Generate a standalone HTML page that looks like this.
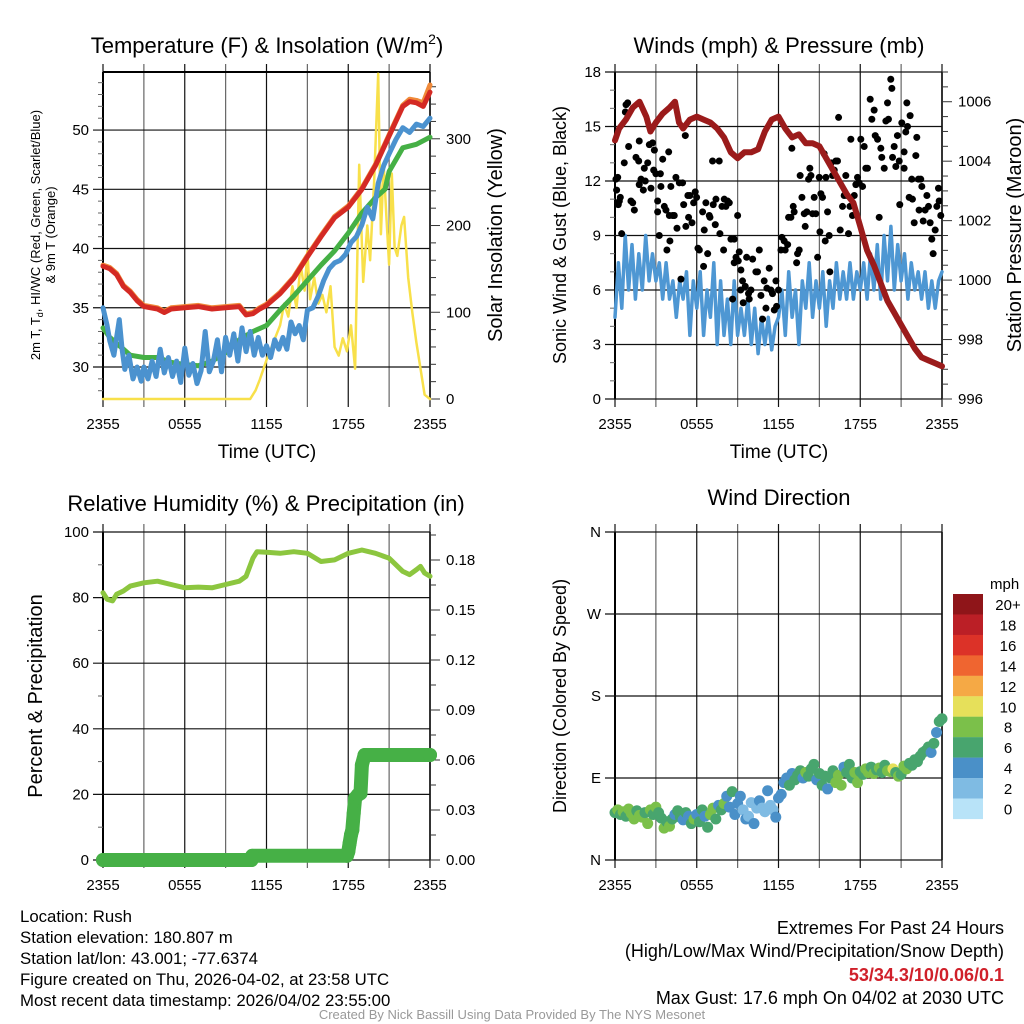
<!DOCTYPE html>
<html><head><meta charset="utf-8"><style>
body{margin:0;background:#fff}
svg{display:block;font-family:"Liberation Sans",sans-serif}
.n{font-family:"Liberation Sans Narrow","Liberation Sans",sans-serif}
</style></head><body>
<svg id="s" width="1024" height="1024" viewBox="0 0 1024 1024">
<rect width="1024" height="1024" fill="#fff"/>
<text x="267" y="53" font-size="22" text-anchor="middle">Temperature (F) &amp; Insolation (W/m<tspan font-size="14" dy="-9">2</tspan><tspan dy="9">)</tspan></text>
<text x="779" y="53" font-size="22" text-anchor="middle">Winds (mph) &amp; Pressure (mb)</text>
<text x="266" y="511" font-size="22" text-anchor="middle">Relative Humidity (%) &amp; Precipitation (in)</text>
<text x="779" y="505" font-size="22" text-anchor="middle">Wind Direction</text>
<text x="267" y="458" font-size="19" text-anchor="middle">Time (UTC)</text>
<text x="779" y="458" font-size="19" text-anchor="middle">Time (UTC)</text>
<text transform="translate(40,235) rotate(-90)" font-size="13" text-anchor="middle">2m T, T<tspan font-size="9" dy="3">d</tspan><tspan dy="-3">, HI/WC (Red, Green, Scarlet/Blue)</tspan></text>
<text transform="translate(55,235) rotate(-90)" font-size="13" text-anchor="middle">&amp; 9m T (Orange)</text>
<text transform="translate(502,235) rotate(-90)" font-size="20" text-anchor="middle">Solar Insolation (Yellow)</text>
<text transform="translate(566,235) rotate(-90)" font-size="18" text-anchor="middle">Sonic Wind &amp; Gust (Blue, Black)</text>
<text transform="translate(1021,235) rotate(-90)" font-size="20" text-anchor="middle">Station Pressure (Maroon)</text>
<text transform="translate(42,696) rotate(-90)" font-size="20" text-anchor="middle">Percent &amp; Precipitation</text>
<text transform="translate(566,696) rotate(-90)" font-size="18" text-anchor="middle">Direction (Colored By Speed)</text>
<g class="n" font-size="16.8">
<text x="20" y="922">Location: Rush</text>
<text x="20" y="943">Station elevation: 180.807 m</text>
<text x="20" y="964">Station lat/lon: 43.001; -77.6374</text>
<text x="20" y="985">Figure created on Thu, 2026-04-02, at 23:58 UTC</text>
<text x="20" y="1006">Most recent data timestamp: 2026/04/02 23:55:00</text>
</g>
<g class="n" font-size="18" text-anchor="end">
<text x="1004" y="934">Extremes For Past 24 Hours</text>
<text x="1004" y="957">(High/Low/Max Wind/Precipitation/Snow Depth)</text>
<text x="1004" y="981" fill="#d0202a" font-weight="bold">53/34.3/10/0.06/0.1</text>
<text x="1004" y="1004">Max Gust: 17.6 mph On 04/02 at 2030 UTC</text>
</g>
<text class="n" x="512" y="1019" font-size="13" fill="#999" text-anchor="middle">Created By Nick Bassill Using Data Provided By The NYS Mesonet</text>
<g id="g"></g>
</svg>
<script>
// ---- data ----
const xTickLabels=["2355","0555","1155","1755","2355"];
const tTemp=[0,0.5,1,1.5,2,2.5,3,3.5,4,4.5,5,6,7,8,9,10,10.5,11,11.5,12,13,14,15,16,17,18,19,20,21,22,22.5,23,23.5,24];
const redTemp=[38.5,38.3,37.8,36.8,36.3,35.6,35.1,35.0,34.9,34.6,34.9,35.0,35.1,34.9,35.0,35.1,34.4,34.5,34.9,35.2,36.2,37.5,39.3,41.0,42.6,43.5,45.0,47.0,49.5,52.0,52.4,52.3,52.0,53.2];
const orangeTemp=[38.6,38.4,37.9,36.9,36.4,35.7,35.2,35.1,35.0,34.7,35.0,35.1,35.2,35.0,35.1,35.2,34.5,34.6,35.0,35.3,36.3,37.6,39.4,41.1,42.7,43.6,45.1,47.1,49.6,52.1,52.6,52.5,52.3,53.8];
const tDew=[0,0.5,1,1.5,2,3,4,5,6,7,8,9,10,11,12,13,14,15,16,17,18,19,20,20.7,21,22,23,24];
const greenDew=[33.3,32.5,32.0,31.5,31.0,30.8,30.8,30.4,30.2,30.1,30.5,31.2,32.3,33.0,33.5,34.8,36.0,37.3,38.6,39.8,41.3,43.0,44.3,45.0,46.5,48.5,48.8,49.4];
const tChill=[0,0.3,0.5,0.8,1,1.2,1.4,1.6,1.9,2.2,2.5,2.8,3,3.3,3.6,3.9,4.2,4.5,4.8,5.1,5.4,5.7,6,6.3,6.6,6.9,7.2,7.5,7.8,8.1,8.4,8.7,9,9.3,9.6,9.9,10.2,10.5,10.8,11.1,11.4,11.7,12,12.3,12.6,12.9,13.2,13.5,13.8,14.1,14.4,14.7,15,15.4,15.8,16.2,16.6,17,17.4,17.8,18.2,18.6,19,19.4,19.8,20.2,20.6,21,21.5,22,22.5,23,23.5,24];
const blueChill=[35,33.5,32.2,31.0,32.5,34.0,31.5,29.8,31.0,29.0,30.0,28.8,30.0,29.0,30.5,29.2,31.5,29.5,30.8,29.2,30.5,28.7,31.6,29.3,30.3,28.6,29.7,33.0,29.6,30.5,32.3,29.6,32.5,31.0,32.8,30.5,33.3,31.3,33.0,31.0,32.5,31.0,31.8,30.8,32.3,31.5,32.5,31.5,33.8,32.8,33.5,32.3,34.8,35.0,36.0,37.3,38.3,38.8,39.0,39.5,40.5,41.0,42.0,43.5,42.5,45.5,47.0,48.0,49.2,50.2,49.8,50.5,50.3,51.0];
const tSolar=[0,10.8,11.2,11.5,12,12.5,13,13.3,13.6,13.9,14.2,14.5,14.8,15,15.2,15.5,15.8,16.1,16.4,16.7,17,17.3,17.6,17.9,18.2,18.5,18.8,19.1,19.4,19.6,19.9,20.2,20.4,20.6,20.8,21,21.2,21.4,21.6,21.9,22.1,22.4,22.7,23,23.3,23.6,24];
const solar=[0,0,10,22,45,65,85,110,95,130,105,155,125,170,115,140,110,120,100,130,60,50,70,55,85,35,270,135,200,160,250,375,190,270,210,155,260,175,165,200,210,140,100,65,35,5,0];
const windSpd=[4.5,7.5,5.0,9.0,6.0,8.5,5.5,8.0,6.0,9.0,6.5,8.0,6.5,7.5,5.5,7.5,5.5,6.5,4.5,6.5,5.5,7.0,3.5,6.5,5.0,7.0,3.5,6.0,4.5,7.5,3.0,6.5,3.5,5.5,3.0,6.5,3.5,5.0,3.5,5.5,3.0,5.0,2.5,4.5,3.0,4.5,2.7,4.0,4.5,6.0,3.5,7.0,4.5,6.0,3.0,6.5,5.0,7.5,4.5,6.5,5.0,7.0,4.0,6.5,5.0,7.5,5.5,7.0,5.5,7.5,5.5,7.0,6.0,7.5,5.5,8.0,6.0,8.5,5.5,9.0,6.5,9.5,6.0,8.5,6.5,8.0,5.5,7.5,6.0,7.0,5.5,7.0,5.0,6.5,5.0,6.5,7.0];
const tPres=[0,0.3,0.8,1.3,1.8,2.3,2.6,3,3.5,4,4.4,4.7,5,5.5,6,6.5,7,7.5,8,8.5,9,9.5,10,10.5,11,11.5,12,12.5,13,13.5,14,14.5,15,15.5,16,16.5,17,17.5,18,18.5,19,19.5,20,20.5,21,21.5,22,22.5,23,23.5,24];
const pres=[1004.7,1005.1,1005.4,1005.8,1006.0,1005.5,1005.0,1005.3,1005.6,1005.8,1006.0,1005.3,1005.1,1005.4,1005.5,1005.4,1005.3,1005.1,1004.8,1004.3,1004.1,1004.3,1004.3,1004.4,1005.0,1005.4,1005.5,1005.1,1004.8,1004.9,1004.6,1004.6,1004.5,1004.1,1003.7,1003.3,1002.9,1002.6,1001.8,1001.0,1000.5,999.9,999.3,998.9,998.5,998.1,997.7,997.4,997.3,997.2,997.1];
const gustT=[0.07,0.2,0.12,0.39,0.24,0.32,0.49,0.68,0.81,0.93,0.76,1.0,1.17,1.3,1.42,1.54,1.74,1.78,1.91,1.78,2.08,2.15,2.22,2.4,2.52,2.64,2.76,2.89,2.84,3.0,3.13,3.13,3.25,3.33,3.37,3.5,3.62,3.74,3.81,3.94,4.03,3.99,4.1,4.23,4.35,4.47,4.55,4.72,4.84,4.96,5.04,5.16,5.2,5.35,5.4,5.5,5.65,5.77,5.89,5.99,6.09,6.19,6.43,6.5,6.55,6.67,6.8,6.92,6.97,7.16,7.21,7.36,7.41,7.65,7.7,7.85,7.97,8.02,8.14,8.26,8.39,8.51,8.63,8.75,8.75,8.88,9.0,9.05,9.12,9.22,9.24,9.36,9.41,9.56,9.66,9.8,9.85,9.98,10.1,10.34,10.46,10.59,10.71,10.83,10.95,11.08,11.15,11.32,11.44,11.56,11.69,11.81,11.86,12.0,12.18,12.25,12.42,12.49,12.67,12.74,12.91,12.98,13.08,13.15,13.33,13.4,13.52,13.59,13.72,13.89,13.96,14.08,14.21,14.3,14.38,14.5,14.62,14.74,14.87,14.99,15.04,15.11,15.23,15.35,15.43,15.48,15.6,15.72,15.77,15.87,15.97,16.09,16.21,16.33,16.41,16.53,16.7,16.82,16.94,17.02,17.14,17.24,17.31,17.43,17.56,17.68,17.8,17.92,18.04,18.17,18.29,18.41,18.53,18.73,18.85,19.02,19.1,19.27,19.39,19.51,19.58,19.76,19.88,20.0,20.07,20.24,20.32,20.37,20.49,20.61,20.73,20.86,20.9,21.05,21.22,21.22,21.34,21.42,21.47,21.59,21.66,21.78,21.83,21.96,22.08,22.15,22.27,22.32,22.44,22.52,22.62,22.76,22.89,23.01,23.13,23.25,23.35,23.5,23.62,23.74,23.79,23.91];
const gustV=[12.1,12.2,11.5,11.1,10.7,10.9,9.1,13.0,16.2,16.3,15.8,13.9,10.9,10.8,10.4,13.3,13.1,14.2,12.1,11.8,11.5,12.7,12.0,13.0,14.0,11.6,14.1,13.7,12.6,12.4,10.9,10.3,9.0,12.4,11.7,13.2,10.6,10.4,8.2,13.6,8.7,10.1,11.7,10.1,10.1,12.2,9.4,11.9,6.6,11.9,10.7,14.5,9.5,11.2,10.0,11.2,9.7,10.8,11.4,11.1,8.3,8.2,10.3,7.3,9.3,10.8,8.0,10.1,10.0,13.1,10.7,9.6,11.0,13.1,9.1,10.6,8.2,11.0,10.6,10.9,10.8,8.8,5.5,8.8,7.5,7.8,10.1,7.6,8.1,6.0,7.1,6.5,5.3,6.2,7.8,5.8,5.5,6.0,7.7,7.0,7.0,8.2,5.7,4.4,6.5,5.0,6.1,7.2,6.0,5.8,4.9,6.5,5.1,6.0,8.2,8.9,8.7,8.2,8.5,10.0,10.0,13.8,10.6,10.3,7.5,8.0,8.2,12.3,11.1,10.2,9.5,10.3,12.1,12.7,12.3,10.2,11.1,10.2,7.8,12.2,9.2,11.3,11.1,13.5,8.7,12.2,10.3,9.0,7.0,13.0,12.3,12.6,13.1,13.1,15.5,9.3,10.6,11.2,12.3,11.2,9.1,10.6,14.3,10.1,11.2,11.8,12.2,11.9,14.3,11.7,13.9,12.7,12.7,16.5,15.4,15.9,14.5,14.3,10.0,13.8,13.3,12.7,15.3,16.3,15.4,17.6,17.1,13.3,13.9,12.8,14.5,13.1,10.7,15.2,12.7,13.6,14.7,16.3,15.0,11.1,15.6,12.1,11.0,9.7,13.4,14.4,12.1,10.4,12.1,11.7,9.8,10.4,11.2,10.6,9.7,8.8,8.0,9.3,10.6,11.6,10.9,10.1];
const tRH=[0,0.3,0.7,1,1.5,2,3,4,5,6,7,8,9,10,10.5,11,11.3,12,13,14,15,16,17,18,19,20,21,22,22.5,23,23.3,23.6,24];
const rh=[81.5,79.5,79,81,82,83.5,84.5,85,84,83,83.2,83,84,85,86.5,92,94,93.8,93.5,94,93.5,91,91.5,93.5,94.5,93.5,92,88,87,88.5,89.5,87.5,86.5];
const tPcp=[0,10.9,10.95,17.9,18.0,18.1,18.2,18.3,18.4,18.5,18.7,18.9,19.0,19.2,24];
const pcp=[0,0,0.0025,0.0025,0.005,0.01,0.015,0.018,0.028,0.037,0.039,0.040,0.057,0.063,0.063];
const dirT=[0,0.2,0.4,0.6,0.8,1,1.2,1.4,1.6,1.8,2,2.2,2.4,2.6,2.8,3,3.2,3.4,3.6,3.8,4,4.2,4.4,4.6,4.8,5,5.2,5.4,5.6,5.8,6,6.2,6.4,6.6,6.8,7,7.2,7.4,7.6,7.8,8,8.2,8.4,8.6,8.8,9,9.2,9.4,9.6,9.8,10,10.2,10.4,10.6,10.8,11,11.2,11.4,11.6,11.8,12,12.2,12.4,12.6,12.8,13,13.2,13.4,13.6,13.8,14,14.2,14.4,14.6,14.8,15,15.2,15.4,15.6,15.8,16,16.2,16.4,16.6,16.8,17,17.2,17.4,17.6,17.8,18,18.2,18.4,18.6,18.8,19,19.2,19.4,19.6,19.8,20,20.2,20.4,20.6,20.8,21,21.2,21.4,21.6,21.8,22,22.2,22.4,22.6,22.8,23,23.2,23.4,23.6,23.8,24];
const dirDeg=[52,55,50,53,48,56,51,45,54,49,47,52,40,55,50,58,52,46,35,42,37,45,50,54,47,44,52,48,40,45,50,42,55,48,36,50,57,45,60,55,62,70,58,75,50,62,70,55,45,48,63,40,57,65,57,53,76,60,55,47,68,72,85,90,82,95,88,93,98,90,96,92,100,105,88,95,82,92,78,90,98,85,93,82,102,96,105,90,96,85,97,94,100,96,102,95,99,101,96,104,98,97,100,96,92,94,103,100,106,104,110,108,114,118,120,124,118,128,140,152,155];
const dirSpd=[6,7,6,8,6,7,8,8,6,7,8,6,8,7,6,8,6,6,8,6,7,6,4,6,6,4,6,4,6,7,4,6,6,4,6,7,8,6,4,6,8,4,4,6,4,4,4,2,4,2,2,4,2,4,2,2,4,2,2,4,4,4,4,4,6,4,6,6,6,4,8,6,6,6,4,6,6,6,4,6,6,8,8,8,4,6,6,6,8,8,6,6,8,8,6,8,6,8,6,6,8,8,10,6,8,6,8,8,6,6,6,6,6,6,6,6,4,6,4,6,6];
const cbLabels=["20+","18","16","14","12","10","8","6","4","2","0"];
const cbColors=["#8f1519","#bb1f26","#dc3228","#ef6530","#f5a945","#e6e05a","#7bc04a","#48a56e","#4a90c8","#7fbbe3","#b8e3f8"];

const NS="http://www.w3.org/2000/svg";
const G=document.getElementById('g');
function mk(tag,attrs,parent){const e=document.createElementNS(NS,tag);for(const k in attrs)e.setAttribute(k,attrs[k]);(parent||G).appendChild(e);return e;}
function lin(d0,d1,r0,r1){return v=>r0+(v-d0)*(r1-r0)/(d1-d0);}

function frame(L,R,T,B,name){
  const g=mk('g',{});
  
  
  const xs=lin(0,24,L,R);
  for(let h=0;h<=24;h+=3){const x=xs(h);
    const l=mk('line',{x1:x,x2:x,y1:T-8,y2:B+8,stroke:(h%6?'#666':'#111'),'stroke-width':1.2},g);
    }
  xTickLabels.forEach((s,i)=>{const t=mk('text',{x:xs(i*6),y:B+30,'font-size':15,'text-anchor':'middle'},g);t.textContent=s;
    });
  mk('line',{x1:L,x2:L,y1:T,y2:B,stroke:'#000','stroke-width':2},g);
  mk('line',{x1:R,x2:R,y1:T,y2:B,stroke:'#000','stroke-width':1.5},g);
  return {g,xs};
}
function hgrid(g,L,R,y,lbl){
  const l=mk('line',{x1:L-10,x2:R,y1:y,y2:y,stroke:'#111','stroke-width':1.2},g);
  
  if(lbl!==null){const t=mk('text',{x:L-14,y:y+5,'font-size':15,'text-anchor':'end'},g);t.textContent=lbl;
    }
}
function rtick(g,R,y,lbl,major){
  mk('line',{x1:R,x2:R+(major?10:6),y1:y,y2:y,stroke:'#333','stroke-width':1},g);
  if(lbl!==null){const t=mk('text',{x:R+16,y:y+5,'font-size':15},g);t.textContent=lbl;
    }
}
function path(pts,attrs,name){const p=mk('path',Object.assign({d:'M'+pts.map(p=>p[0].toFixed(1)+','+p[1].toFixed(1)).join('L'),fill:'none','stroke-linejoin':'round','stroke-linecap':'round'},attrs));
  return p;}

// ---- Panel 1 ----
(function(){
  const L=103,R=430,T=72,B=399;const f=frame(L,R,T,B,'temp');const g=f.g,xs=f.xs;
  const ys=lin(27.3,54.9,B,T), ysol=lin(0,377,B,T);
  [30,35,40,45,50].forEach(v=>hgrid(g,L,R,ys(v),String(v)));
  for(let v=28;v<=54;v++){if(v%5)mk('line',{x1:L-5,x2:L,y1:ys(v),y2:ys(v),stroke:'#666'},g);}
  for(let v=0;v<=360;v+=20)rtick(g,R,ysol(v),v%100?null:String(v),v%100===0);
  mk('line',{x1:L,x2:R,y1:T,y2:T,stroke:'#000','stroke-width':2},g);
  path(tSolar.map((t,i)=>[xs(t),ysol(solar[i])]),{stroke:'#f8e04a','stroke-width':2.5},'solar-line');
  path(tDew.map((t,i)=>[xs(t),ys(greenDew[i])]),{stroke:'#45b045','stroke-width':5},'dewpoint-line');
  path(tChill.map((t,i)=>[xs(t),ys(blueChill[i])]),{stroke:'#4b92cf','stroke-width':5},'windchill-line');
  path(tTemp.map((t,i)=>[xs(t),ys(orangeTemp[i])]),{stroke:'#f08a3a','stroke-width':5},'temp-9m-line');
  path(tTemp.map((t,i)=>[xs(t),ys(redTemp[i])]),{stroke:'#d42a24','stroke-width':5},'temp-2m-line');
})();

// ---- Panel 2 ----
(function(){
  const L=615,R=942,T=72,B=399;const f=frame(L,R,T,B,'wind');const g=f.g,xs=f.xs;
  const ys=lin(0,18,B,T), yp=lin(996,1007,B,T);
  [0,3,6,9,12,15,18].forEach(v=>hgrid(g,L,R,ys(v),String(v)));
  for(let v=1;v<18;v++){if(v%3)mk('line',{x1:L-5,x2:L,y1:ys(v),y2:ys(v),stroke:'#666'},g);}
  for(let v=996;v<=1007;v+=0.5)rtick(g,R,yp(v),(v%2===0)?String(v):null,v%2===0);
  const n=windSpd.length;
  path(windSpd.map((v,i)=>[xs(i*24/(n-1)),ys(v)]),{stroke:'#4e97d3','stroke-width':3.5},'sonic-wind-line');
  gustT.forEach((t,i)=>{const c=mk('circle',{cx:xs(t),cy:ys(gustV[i]),r:3.5,fill:'#000'});
    });
  path(tPres.map((t,i)=>[xs(t),yp(pres[i])]),{stroke:'#9b1b1b','stroke-width':6},'pressure-line');
})();

// ---- Panel 3 ----
(function(){
  const L=103,R=430,T=532,B=860;const f=frame(L,R,T,B,'rh');const g=f.g,xs=f.xs;
  const ys=lin(0,100,B,T), yq=lin(0,0.1968,B,T);
  [0,20,40,60,80,100].forEach(v=>hgrid(g,L,R,ys(v),String(v)));
  for(let v=10;v<100;v+=20)mk('line',{x1:L-5,x2:L,y1:ys(v),y2:ys(v),stroke:'#666'},g);
  for(let k=0;k<=13;k++){const v=k*0.015;rtick(g,R,yq(v),k%2?null:v.toFixed(2),k%2===0);}
  path(tRH.map((t,i)=>[xs(t),ys(rh[i])]),{stroke:'#8cc63f','stroke-width':5},'rh-line');
  path(tPcp.map((t,i)=>[xs(t),yq(pcp[i])]),{stroke:'#46b046','stroke-width':14},'precip-line');
  tPcp.forEach((t,i)=>{const c=mk('circle',{cx:xs(t),cy:yq(pcp[i]),r:7,fill:'#46b046'});
    });
})();

// ---- Panel 4 ----
(function(){
  const L=615,R=942,T=532,B=860;const f=frame(L,R,T,B,'direction');const g=f.g,xs=f.xs;
  const ys=lin(0,360,B,T);
  ["N","E","S","W","N"].forEach((s,i)=>hgrid(g,L,R,ys(i*90),s));
  function col(s){return cbColors[10-Math.min(10,Math.round(s/2))];}
  dirT.forEach((t,i)=>{const c=mk('circle',{cx:xs(t),cy:ys(dirDeg[i]),r:5.5,fill:col(dirSpd[i])});
    });
  const cb=mk('g',{});
  const t0=mk('text',{x:990,y:589,'font-size':15},cb);t0.textContent='mph';
  cbLabels.forEach((s,i)=>{const y=594+i*20.45;
    mk('rect',{x:953,y:y,width:30,height:20.6,fill:cbColors[i]},cb);
    const t=mk('text',{x:1008,y:y+16,'font-size':15,'text-anchor':'middle'},cb);t.textContent=s;});
})();
</script>
</body></html>
